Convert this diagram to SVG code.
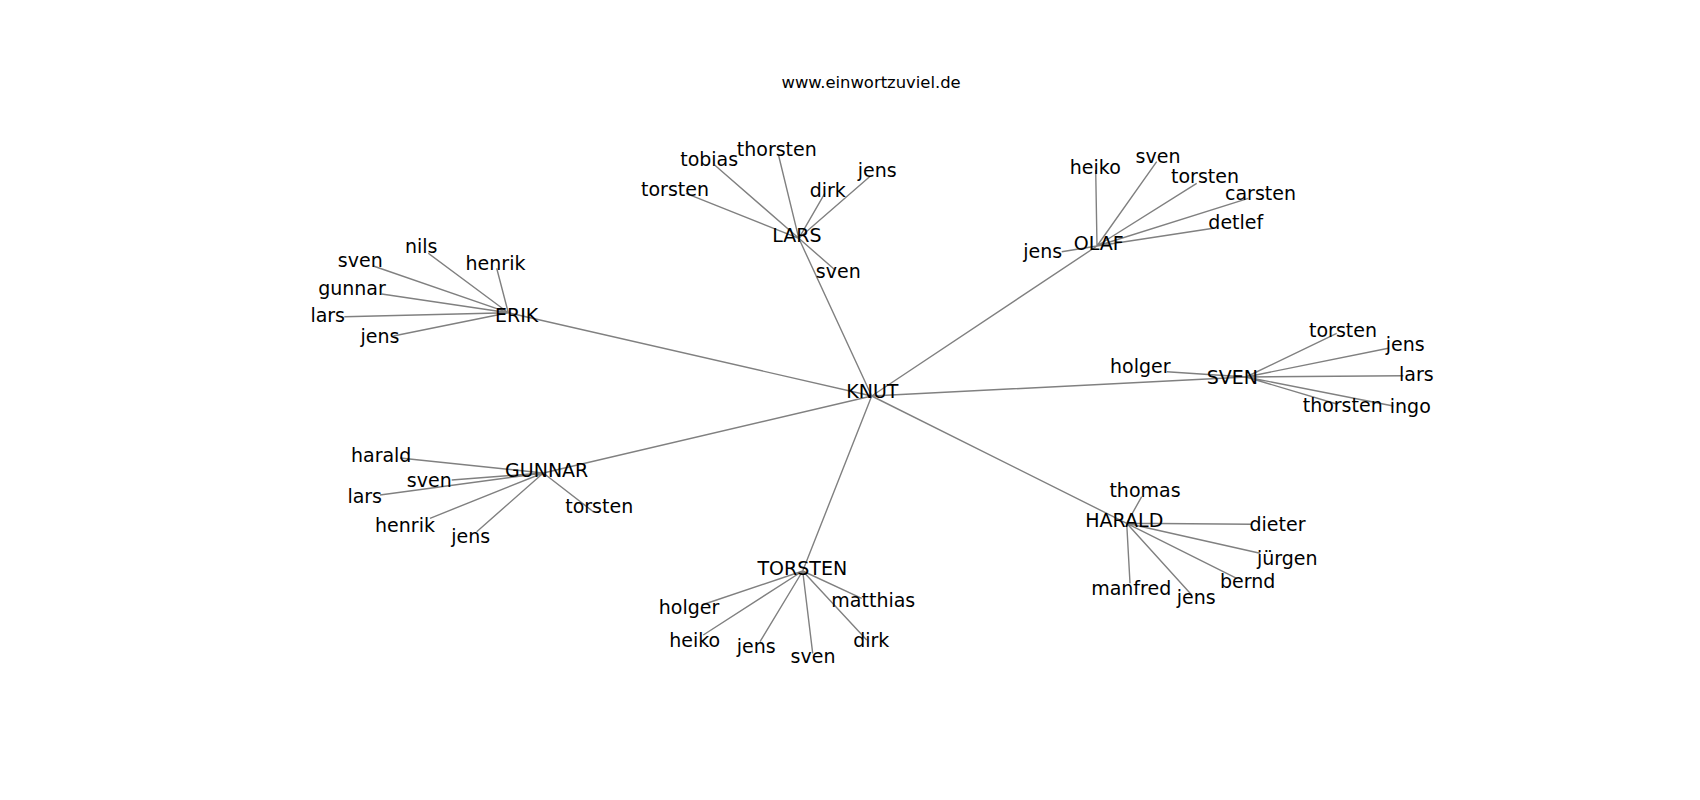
<svg xmlns="http://www.w3.org/2000/svg" width="1700" height="800" viewBox="0 0 1700 800">
<style>
.e{stroke:#808080;stroke-width:1.4;fill:none}
text{font-family:"DejaVu Sans","Liberation Sans",sans-serif;fill:#000;text-anchor:middle}
.n{font-size:19px}
.t{font-size:16.4px}
</style>
<rect width="1700" height="800" fill="#fff"/>
<text class="t" x="871.1" y="88.3">www.einwortzuviel.de</text>
<g id="edges">
<path class="e" d="M871.7 396L798.8 238.3M871.7 396L1097 246M871.7 396L508.3 312.7M871.7 396L1246 377M871.7 396L543.3 473M871.7 396L802.7 571M871.7 396L1126.7 523.3"/>
<path class="e" d="M798.8 238.3L778.5 155M798.8 238.3L714.6 165M798.8 238.3L685.9 193.3M798.8 238.3L824.8 193.3M798.8 238.3L869.6 176.7M798.8 238.3L835.1 270"/>
<path class="e" d="M1097 246L1095.7 170M1097 246L1156.7 161.7M1097 246L1196.7 183.3M1097 246L1248.3 198.3M1097 246L1213.3 228.3M1097 246L1061.7 251.7"/>
<path class="e" d="M508.3 312.7L428.3 253.3M508.3 312.7L373.3 266M508.3 312.7L496.7 268.3M508.3 312.7L381.7 294M508.3 312.7L344.3 316.7M508.3 312.7L393.3 336"/>
<path class="e" d="M1246 377L1166.7 371.7M1246 377L1336.7 333.3M1246 377L1388.3 348.3M1246 377L1403.3 375.7M1246 377L1336.7 404M1246 377L1393.3 406"/>
<path class="e" d="M543.3 473L400 458M543.3 473L451.7 480M543.3 473L380 495M543.3 473L430 518.3M543.3 473L476.7 531.7M543.3 473L593.3 511.7"/>
<path class="e" d="M802.7 571L701.7 605M802.7 571L703.3 635M802.7 571L760 641.7M802.7 571L812.7 653.3M802.7 571L861.7 598.3M802.7 571L866.7 640"/>
<path class="e" d="M1126.7 523.3L1141.7 496.7M1126.7 523.3L1251.7 524.3M1126.7 523.3L1260 553.3M1126.7 523.3L1236.7 578.3M1126.7 523.3L1130 583.3M1126.7 523.3L1191.7 595"/>
</g>
<g id="KNUT"><text class="n" x="872.3" y="398.3">KNUT</text></g>
<g id="LARS"><text class="n" x="796.9" y="242.3">LARS</text></g>
<g id="OLAF"><text class="n" x="1098.7" y="249.5">OLAF</text></g>
<g id="ERIK"><text class="n" x="516.7" y="321.7">ERIK</text></g>
<g id="SVEN"><text class="n" x="1232.3" y="383.7">SVEN</text></g>
<g id="GUNNAR"><text class="n" x="546.7" y="476.7">GUNNAR</text></g>
<g id="TORSTEN"><text class="n" x="802.3" y="575">TORSTEN</text></g>
<g id="HARALD"><text class="n" x="1124.3" y="527.3">HARALD</text></g>
<g id="lars-leaves">
<g id="lars-thorsten"><text class="n" x="776.8" y="156">thorsten</text></g>
<g id="lars-tobias"><text class="n" x="709.2" y="166">tobias</text></g>
<g id="lars-torsten"><text class="n" x="675" y="195.7">torsten</text></g>
<g id="lars-dirk"><text class="n" x="827.8" y="196.7">dirk</text></g>
<g id="lars-jens"><text class="n" x="877.2" y="176.7">jens</text></g>
<g id="lars-sven"><text class="n" x="838.3" y="277.7">sven</text></g>
</g>
<g id="olaf-leaves">
<g id="olaf-heiko"><text class="n" x="1095.3" y="174.3">heiko</text></g>
<g id="olaf-sven"><text class="n" x="1158" y="163.3">sven</text></g>
<g id="olaf-torsten"><text class="n" x="1205" y="183.3">torsten</text></g>
<g id="olaf-carsten"><text class="n" x="1260.5" y="200">carsten</text></g>
<g id="olaf-detlef"><text class="n" x="1235.8" y="229.3">detlef</text></g>
<g id="olaf-jens"><text class="n" x="1042.8" y="258.3">jens</text></g>
</g>
<g id="erik-leaves">
<g id="erik-nils"><text class="n" x="421.2" y="253.3">nils</text></g>
<g id="erik-sven"><text class="n" x="360.3" y="266.7">sven</text></g>
<g id="erik-henrik"><text class="n" x="495.5" y="270">henrik</text></g>
<g id="erik-gunnar"><text class="n" x="352" y="295">gunnar</text></g>
<g id="erik-lars"><text class="n" x="327.7" y="321.7">lars</text></g>
<g id="erik-jens"><text class="n" x="380" y="343.3">jens</text></g>
</g>
<g id="sven-leaves">
<g id="sven-holger"><text class="n" x="1140.3" y="373.3">holger</text></g>
<g id="sven-torsten"><text class="n" x="1343" y="336.7">torsten</text></g>
<g id="sven-jens"><text class="n" x="1405.3" y="350.7">jens</text></g>
<g id="sven-lars"><text class="n" x="1416.3" y="380.7">lars</text></g>
<g id="sven-thorsten"><text class="n" x="1342.7" y="411.7">thorsten</text></g>
<g id="sven-ingo"><text class="n" x="1410.3" y="413.3">ingo</text></g>
</g>
<g id="gunnar-leaves">
<g id="gunnar-harald"><text class="n" x="381.2" y="462.3">harald</text></g>
<g id="gunnar-sven"><text class="n" x="429.3" y="487.3">sven</text></g>
<g id="gunnar-lars"><text class="n" x="364.7" y="502.7">lars</text></g>
<g id="gunnar-henrik"><text class="n" x="405" y="531.7">henrik</text></g>
<g id="gunnar-jens"><text class="n" x="470.8" y="542.7">jens</text></g>
<g id="gunnar-torsten"><text class="n" x="599.2" y="513.3">torsten</text></g>
</g>
<g id="torsten-leaves">
<g id="torsten-holger"><text class="n" x="689" y="614.3">holger</text></g>
<g id="torsten-heiko"><text class="n" x="694.7" y="646.7">heiko</text></g>
<g id="torsten-jens"><text class="n" x="756.2" y="653.3">jens</text></g>
<g id="torsten-sven"><text class="n" x="813" y="663.3">sven</text></g>
<g id="torsten-matthias"><text class="n" x="873.3" y="606.7">matthias</text></g>
<g id="torsten-dirk"><text class="n" x="871.3" y="646.7">dirk</text></g>
</g>
<g id="harald-leaves">
<g id="harald-thomas"><text class="n" x="1145" y="497.3">thomas</text></g>
<g id="harald-dieter"><text class="n" x="1277.5" y="530.7">dieter</text></g>
<g id="harald-juergen"><text class="n" x="1287.3" y="565">jürgen</text></g>
<g id="harald-bernd"><text class="n" x="1247.7" y="588.3">bernd</text></g>
<g id="harald-manfred"><text class="n" x="1131.2" y="595">manfred</text></g>
<g id="harald-jens"><text class="n" x="1196.3" y="604.3">jens</text></g>
</g>
</svg>
